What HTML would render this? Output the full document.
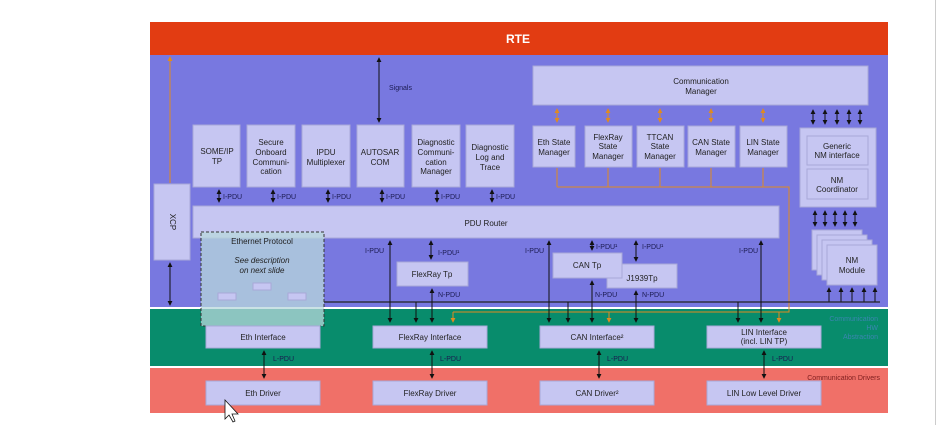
<!DOCTYPE html>
<html><head><meta charset="utf-8"><style>
body{margin:0;background:#fff;width:946px;height:425px;overflow:hidden}
svg{display:block;font-family:"Liberation Sans",sans-serif}
.b{fill:#c6c6f2;stroke:#a8a8d8;stroke-width:1}
.t{font-size:8px;fill:#222;text-anchor:middle}
.s{font-size:7px;fill:#1a1a50}
</style></head><body>
<svg width="946" height="425" viewBox="0 0 946 425">
<defs>
<marker id="a" viewBox="0 0 6 6" refX="5" refY="3" markerWidth="5" markerHeight="5" orient="auto-start-reverse"><path d="M0,0L6,3L0,6z" fill="#111"/></marker>
<marker id="o" viewBox="0 0 6 6" refX="5" refY="3" markerWidth="5" markerHeight="5" orient="auto-start-reverse"><path d="M0,0L6,3L0,6z" fill="#e08a20"/></marker>
</defs>
<line x1="935.5" y1="0" x2="935.5" y2="425" stroke="#ccc"/>
<rect x="150" y="22" width="738" height="33" fill="#e23c12"/>
<text x="518" y="43" font-size="12" font-weight="bold" fill="#fff" text-anchor="middle">RTE</text>
<rect x="150" y="55" width="738" height="252" fill="#7878e0"/>
<rect x="150" y="309" width="738" height="57" fill="#088c6c"/>
<rect x="150" y="368" width="738" height="45" fill="#f07068"/>
<text x="878" y="321" font-size="7" fill="#3a86b0" text-anchor="end">Communication</text>
<text x="878" y="330" font-size="7" fill="#3a86b0" text-anchor="end">HW</text>
<text x="878" y="339" font-size="7" fill="#3a86b0" text-anchor="end">Abstraction</text>
<text x="880" y="380" font-size="7" fill="#802020" text-anchor="end">Communication Drivers</text>

<!-- XCP -->
<line x1="170" y1="57" x2="170" y2="183" stroke="#e08a20" stroke-width="1" marker-start="url(#o)"/>
<rect class="b" x="154" y="184" width="36" height="76"/>
<text class="t" transform="translate(170,222) rotate(90)">XCP</text>
<line x1="170" y1="263" x2="170" y2="305" stroke="#111" marker-start="url(#a)" marker-end="url(#a)"/>

<!-- signals -->
<line x1="379" y1="58" x2="379" y2="122" stroke="#111" marker-start="url(#a)" marker-end="url(#a)"/>
<text class="s" x="389" y="90">Signals</text>

<!-- upper modules -->
<rect class="b" x="193" y="125" width="47" height="62"/>
<text class="t" x="217" y="154">SOME/IP</text><text class="t" x="217" y="164">TP</text>
<rect class="b" x="247" y="125" width="48" height="62"/>
<text class="t" x="271" y="145">Secure</text><text class="t" x="271" y="155">Onboard</text><text class="t" x="271" y="165">Communi-</text><text class="t" x="271" y="174">cation</text>
<rect class="b" x="302" y="125" width="48" height="62"/>
<text class="t" x="326" y="155">IPDU</text><text class="t" x="326" y="165">Multiplexer</text>
<rect class="b" x="357" y="125" width="47" height="62"/>
<text class="t" x="380" y="155">AUTOSAR</text><text class="t" x="380" y="165">COM</text>
<rect class="b" x="412" y="125" width="48" height="62"/>
<text class="t" x="436" y="145">Diagnostic</text><text class="t" x="436" y="155">Communi-</text><text class="t" x="436" y="165">cation</text><text class="t" x="436" y="174">Manager</text>
<rect class="b" x="466" y="125" width="48" height="62"/>
<text class="t" x="490" y="150">Diagnostic</text><text class="t" x="490" y="160">Log and</text><text class="t" x="490" y="170">Trace</text>
<g stroke="#111" marker-start="url(#a)" marker-end="url(#a)">
<line x1="219" y1="190" x2="219" y2="202"/><line x1="273" y1="190" x2="273" y2="202"/><line x1="328" y1="190" x2="328" y2="202"/><line x1="382" y1="190" x2="382" y2="202"/><line x1="437" y1="190" x2="437" y2="202"/><line x1="492" y1="190" x2="492" y2="202"/>
</g>
<g class="s"><text x="223" y="199">I-PDU</text><text x="277" y="199">I-PDU</text><text x="332" y="199">I-PDU</text><text x="386" y="199">I-PDU</text><text x="441" y="199">I-PDU</text><text x="496" y="199">I-PDU</text></g>

<!-- PDU router -->
<rect class="b" x="193" y="206" width="586" height="32"/>
<text class="t" x="486" y="226" font-size="9">PDU Router</text>

<!-- Comm manager -->
<rect class="b" x="533" y="66" width="335" height="39"/>
<text class="t" x="701" y="84">Communication</text><text class="t" x="701" y="94">Manager</text>
<g stroke="#e08a20" marker-start="url(#o)" marker-end="url(#o)">
<line x1="557" y1="109" x2="557" y2="122"/><line x1="608" y1="109" x2="608" y2="122"/><line x1="660" y1="109" x2="660" y2="122"/><line x1="711" y1="109" x2="711" y2="122"/><line x1="763" y1="109" x2="763" y2="122"/>
</g>
<rect class="b" x="533" y="126" width="42" height="41"/><text class="t" x="554" y="145">Eth State</text><text class="t" x="554" y="155">Manager</text>
<rect class="b" x="585" y="126" width="47" height="41"/><text class="t" x="608" y="140">FlexRay</text><text class="t" x="608" y="149">State</text><text class="t" x="608" y="159">Manager</text>
<rect class="b" x="637" y="126" width="47" height="41"/><text class="t" x="660" y="140">TTCAN</text><text class="t" x="660" y="149">State</text><text class="t" x="660" y="159">Manager</text>
<rect class="b" x="688" y="126" width="47" height="41"/><text class="t" x="711" y="145">CAN State</text><text class="t" x="711" y="155">Manager</text>
<rect class="b" x="740" y="126" width="47" height="41"/><text class="t" x="763" y="145">LIN State</text><text class="t" x="763" y="155">Manager</text>
<path d="M557,168V187M608,168V187M660,168V187M711,168V187M763,168V187M557,187H789V312H453" stroke="#e08a20" fill="none"/>
<g stroke="#e08a20" marker-end="url(#o)"><line x1="453" y1="312" x2="453" y2="322"/><line x1="609" y1="312" x2="609" y2="322"/><line x1="779" y1="312" x2="779" y2="322"/></g>

<!-- NM -->
<g stroke="#111" marker-start="url(#a)" marker-end="url(#a)">
<line x1="813" y1="110" x2="813" y2="124"/><line x1="825" y1="110" x2="825" y2="124"/><line x1="837" y1="110" x2="837" y2="124"/><line x1="849" y1="110" x2="849" y2="124"/><line x1="860" y1="110" x2="860" y2="124"/>
<line x1="815" y1="211" x2="815" y2="226"/><line x1="825" y1="211" x2="825" y2="226"/><line x1="835" y1="211" x2="835" y2="226"/><line x1="845" y1="211" x2="845" y2="226"/><line x1="855" y1="211" x2="855" y2="226"/>
</g>
<rect class="b" x="800" y="128" width="76" height="79"/>
<rect class="b" x="807" y="136" width="61" height="29"/><text class="t" x="837" y="149">Generic</text><text class="t" x="837" y="158">NM interface</text>
<rect class="b" x="807" y="169" width="61" height="30"/><text class="t" x="837" y="183">NM</text><text class="t" x="837" y="192">Coordinator</text>
<rect class="b" x="812" y="230" width="50" height="40"/>
<rect class="b" x="817" y="235" width="50" height="40"/>
<rect class="b" x="822" y="240" width="50" height="40"/>
<rect class="b" x="827" y="245" width="50" height="40"/>
<text class="t" x="852" y="263">NM</text><text class="t" x="852" y="273">Module</text>
<g stroke="#111" marker-end="url(#a)">
<line x1="829" y1="302" x2="829" y2="288"/><line x1="841" y1="302" x2="841" y2="288"/><line x1="852" y1="302" x2="852" y2="288"/><line x1="864" y1="302" x2="864" y2="288"/><line x1="875" y1="302" x2="875" y2="288"/>
</g>

<!-- bus line -->
<line x1="324" y1="302" x2="880" y2="302" stroke="#222" stroke-width="1.3"/>

<!-- TPs -->
<rect class="b" x="397" y="262" width="71" height="24"/><text class="t" x="432" y="277">FlexRay Tp</text>
<rect class="b" x="607" y="264" width="70" height="24"/><text class="t" x="642" y="281">J1939Tp</text>
<rect class="b" x="553" y="253" width="69" height="25"/><text class="t" x="587" y="268">CAN Tp</text>

<g stroke="#111" marker-start="url(#a)" marker-end="url(#a)">
<line x1="390" y1="241" x2="390" y2="322"/>
<line x1="431" y1="241" x2="431" y2="259"/>
<line x1="432" y1="289" x2="432" y2="322"/>
<line x1="549" y1="241" x2="549" y2="322"/>
<line x1="592" y1="241" x2="592" y2="250"/>
<line x1="592" y1="281" x2="592" y2="322"/>
<line x1="636" y1="241" x2="636" y2="261"/>
<line x1="636" y1="291" x2="636" y2="322"/>
<line x1="761" y1="241" x2="761" y2="322"/>
</g>
<g stroke="#111" marker-end="url(#a)">
<line x1="416" y1="302" x2="416" y2="322"/><line x1="568" y1="302" x2="568" y2="322"/><line x1="738" y1="302" x2="738" y2="322"/>
</g>
<g class="s">
<text x="365" y="253">I-PDU</text><text x="438" y="255">I-PDU¹</text><text x="438" y="297">N-PDU</text>
<text x="525" y="253">I-PDU</text><text x="596" y="249">I-PDU¹</text><text x="642" y="249">I-PDU¹</text>
<text x="595" y="297">N-PDU</text><text x="642" y="297">N-PDU</text><text x="739" y="253">I-PDU</text>
</g>

<!-- Ethernet protocol -->
<rect x="201" y="232" width="123" height="94" fill="#b8d8dc" fill-opacity="0.75" stroke="#333" stroke-dasharray="3,2"/>
<text class="t" x="262" y="244">Ethernet Protocol</text>
<text class="t" x="262" y="263" font-style="italic">See description</text>
<text class="t" x="262" y="273" font-style="italic">on next slide</text>
<rect class="b" x="253" y="283" width="18" height="7"/><rect class="b" x="218" y="293" width="18" height="7"/><rect class="b" x="288" y="293" width="18" height="7"/>

<!-- interfaces -->
<rect class="b" x="206" y="326" width="114" height="22"/><text class="t" x="263" y="340">Eth Interface</text>
<rect class="b" x="373" y="326" width="114" height="22"/><text class="t" x="430" y="340">FlexRay Interface</text>
<rect class="b" x="540" y="326" width="114" height="22"/><text class="t" x="597" y="340">CAN Interface²</text>
<rect class="b" x="707" y="326" width="114" height="22"/><text class="t" x="764" y="335">LIN Interface</text><text class="t" x="764" y="344">(incl. LIN TP)</text>
<g stroke="#111" marker-start="url(#a)" marker-end="url(#a)">
<line x1="264" y1="351" x2="264" y2="378"/><line x1="432" y1="351" x2="432" y2="378"/><line x1="599" y1="351" x2="599" y2="378"/><line x1="764" y1="351" x2="764" y2="378"/>
</g>
<g class="s"><text x="273" y="361">L-PDU</text><text x="440" y="361">L-PDU</text><text x="607" y="361">L-PDU</text><text x="772" y="361">L-PDU</text></g>

<!-- drivers -->
<rect class="b" x="206" y="381" width="114" height="24"/><text class="t" x="263" y="396">Eth Driver</text>
<rect class="b" x="373" y="381" width="114" height="24"/><text class="t" x="430" y="396">FlexRay Driver</text>
<rect class="b" x="540" y="381" width="114" height="24"/><text class="t" x="597" y="396">CAN Driver²</text>
<rect class="b" x="707" y="381" width="114" height="24"/><text class="t" x="764" y="396">LIN Low Level Driver</text>
<path d="M225,400V419L229,415L233,422L235,421L232,414L238,414Z" fill="#fff" stroke="#111" stroke-width="0.8"/>
</svg>
</body></html>
